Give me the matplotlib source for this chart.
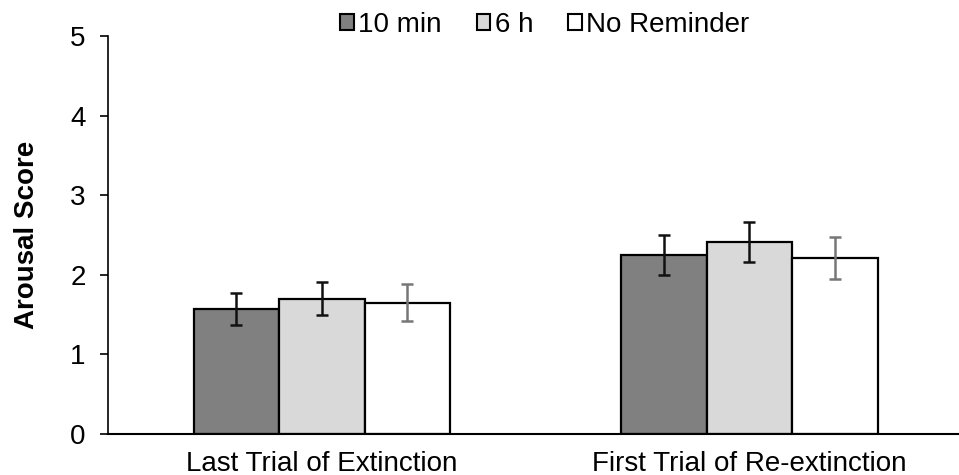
import matplotlib
matplotlib.use("Agg")
import matplotlib.pyplot as plt
from matplotlib.patches import Patch
import numpy as np

plt.rcParams['font.family'] = ['Liberation Sans', 'DejaVu Sans']

categories = ["Last Trial of Extinction", "First Trial of Re-extinction"]
series_names = ["10 min", "6 h", "No Reminder"]
means = {
    "10 min": [1.57, 2.25],
    "6 h": [1.70, 2.41],
    "No Reminder": [1.65, 2.21],
}
errors = {
    "10 min": [0.20, 0.25],
    "6 h": [0.21, 0.25],
    "No Reminder": [0.23, 0.26],
}
fills = ["#808080", "#d9d9d9", "#ffffff"]
err_colors = ["#111111", "#111111", "#777777"]

fig = plt.figure(figsize=(9.59, 4.75), dpi=100)
ax = fig.add_axes([0.1126, 0.0863, 0.8874, 0.8379])

x = np.arange(len(categories))
w = 0.2
for i, name in enumerate(series_names):
    pos = x + (i - 1) * w
    ax.bar(pos, means[name], width=w, color=fills[i], edgecolor="black", linewidth=1.6, zorder=2)
    ax.errorbar(pos, means[name], yerr=errors[name], fmt="none", ecolor=err_colors[i],
                elinewidth=1.8, capsize=4.5, capthick=1.8, zorder=3)

ax.set_xlim(-0.5, 1.49)
ax.set_ylim(0, 5)
ax.set_yticks([0, 1, 2, 3, 4, 5])
ax.set_xticks(x)
ax.set_xticklabels(categories, fontsize=20)
ax.tick_params(axis="x", length=0, pad=12)
ax.tick_params(axis="y", labelsize=20, length=6, width=1.2, direction="out", pad=10)
for s in ["top", "right"]:
    ax.spines[s].set_visible(False)
ax.spines["left"].set_linewidth(1.2)
ax.spines["bottom"].set_linewidth(1.5)
ax.set_ylabel("Arousal Score", fontsize=20, fontweight="bold", labelpad=22)

handles = [Patch(facecolor=fills[i], edgecolor="black", linewidth=1.5) for i in range(3)]
fig.legend(handles, series_names, loc="upper center", bbox_to_anchor=(0.568, 1.028), ncol=3,
           frameon=False, fontsize=20, handlelength=0.5, handleheight=0.5,
           handletextpad=0.15, columnspacing=1.25)

fig.savefig("out.png", dpi=100)
